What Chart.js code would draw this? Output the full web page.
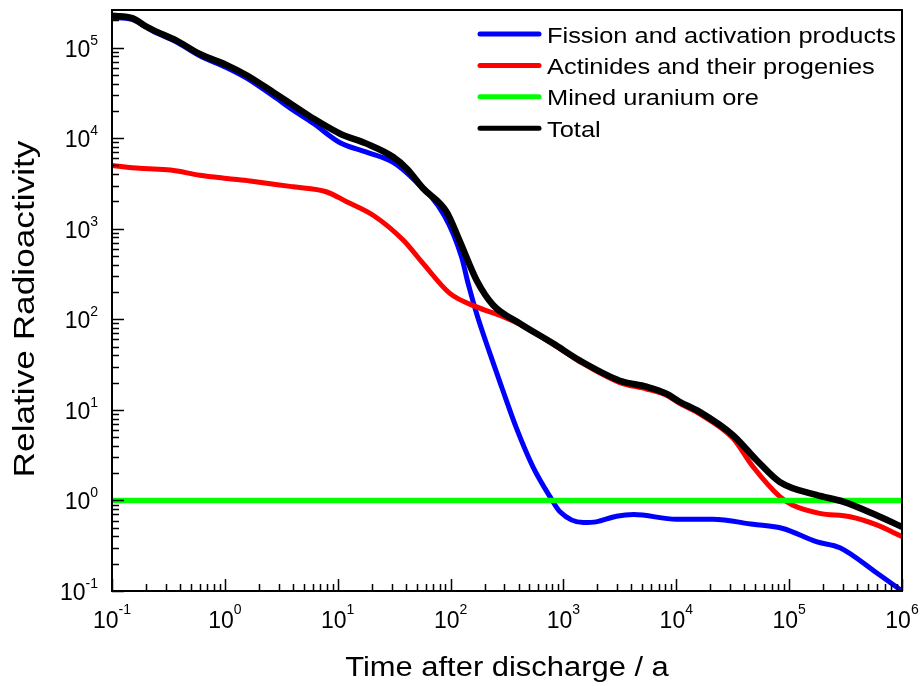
<!DOCTYPE html>
<html>
<head>
<meta charset="utf-8">
<script src="https://cdn.jsdelivr.net/npm/chart.js@4.4.1/dist/chart.umd.min.js"></script>
<style>
  html, body { margin: 0; padding: 0; background: #ffffff; }
  canvas { display: block; }
</style>
</head>
<body>
<canvas id="chart" width="923" height="686"></canvas>
<script>
// Series names, in legend order
const seriesLabels = [
  'Fission and activation products',
  'Actinides and their progenies',
  'Mined uranium ore',
  'Total'
];

// Fission and activation products
const fissionTime = [0.1, 0.15, 0.2, 0.23, 0.37, 0.6, 1.04, 1.56, 2.7, 4.0, 6.1, 10.5, 18, 31, 46, 88, 125, 143, 170, 223, 283, 385, 537, 760, 933, 1500, 1950, 2950, 4200, 10000, 21000, 48000, 88000, 174000, 282000, 590000, 1000000];
const fissionActivity = [2.15e5, 2.05e5, 1.7e5, 1.52e5, 1.16e5, 8.1e4, 6.0e4, 4.6e4, 2.9e4, 2.05e4, 1.45e4, 8.9e3, 7.0e3, 5.4e3, 3.6e3, 1.4e3, 490, 249, 116, 42, 18, 6.2, 2.35, 1.1, 0.75, 0.57, 0.58, 0.67, 0.70, 0.62, 0.62, 0.545, 0.49, 0.35, 0.30, 0.16, 0.10];

// Actinides and their progenies
const actinideTime = [0.1, 0.177, 0.33, 0.6, 1.04, 1.67, 4.04, 7.9, 12, 20.6, 38, 57, 98.6, 170, 292, 411, 813, 1400, 3160, 5450, 8180, 10700, 16100, 31800, 47900, 82600, 107000, 186000, 347000, 589000, 1000000];
const actinideActivity = [5000, 4640, 4440, 3900, 3590, 3370, 2900, 2560, 1990, 1410, 750, 414, 193, 137, 107, 88, 53, 34, 20, 17, 14.5, 11.8, 9.0, 4.85, 2.35, 1.1, 0.89, 0.72, 0.66, 0.54, 0.40];

// Mined uranium ore (reference level)
const oreTime = [0.1, 1000000];
const oreActivity = [1, 1];

// Total
const totalTime = [0.1, 0.153, 0.196, 0.232, 0.37, 0.6, 1.04, 1.56, 2.7, 4.04, 6.07, 10.5, 18, 31, 41, 57, 92, 120, 170, 239, 411, 813, 1400, 3160, 5450, 8180, 10700, 16100, 31800, 51300, 82600, 174000, 300000, 589000, 1000000];
const totalActivity = [2.25e5, 2.1e5, 1.74e5, 1.56e5, 1.2e5, 8.5e4, 6.4e4, 4.95e4, 3.2e4, 2.3e4, 1.65e4, 1.12e4, 8.7e3, 6.2e3, 4.6e3, 2.8e3, 1.54e3, 740, 270, 143, 90, 54, 35, 21, 18, 15.1, 12.3, 9.5, 5.25, 2.8, 1.6, 1.15, 0.97, 0.69, 0.51];

// Decade exponents for the axis labels
const xTickExponents = [-1, 0, 1, 2, 3, 4, 5, 6];
const yTickExponents = [-1, 0, 1, 2, 3, 4, 5];

const xTitle = 'Time after discharge / a';
const yTitle = 'Relative Radioactivity';

const toPoints = (xs, ys) => xs.map((x, i) => ({ x: x, y: ys[i] }));

const FONT = 'Arial, "Liberation Sans", Helvetica, sans-serif';

// Writes "10" with a raised exponent; anchor is 'center' or 'right'
function drawPower(ctx, anchorX, baseY, supY, exp, anchor) {
  ctx.font = '23px ' + FONT;
  const bw = ctx.measureText('10').width;
  ctx.font = '14px ' + FONT;
  const sw = ctx.measureText(String(exp)).width;
  const total = bw + sw;
  const x0 = anchor === 'right' ? anchorX - total : anchorX - total / 2;
  ctx.textAlign = 'left';
  ctx.textBaseline = 'alphabetic';
  ctx.font = '23px ' + FONT;
  ctx.fillText('10', x0, baseY);
  ctx.font = '14px ' + FONT;
  ctx.fillText(String(exp), x0 + bw, supY);
}

// Text widened along its writing direction
function wideText(ctx, text, x, y, rotation, stretch, align) {
  ctx.save();
  ctx.translate(x, y);
  ctx.rotate(rotation);
  ctx.scale(stretch, 1);
  ctx.textAlign = align;
  ctx.textBaseline = 'alphabetic';
  ctx.fillText(text, 0, 0);
  ctx.restore();
}

const frameAndLabels = {
  id: 'frameAndLabels',
  afterDatasetsDraw(chart) {
    const ctx = chart.ctx;
    const a = chart.chartArea;
    const xs = chart.scales.x;
    const ys = chart.scales.y;
    ctx.save();
    ctx.fillStyle = '#000';
    ctx.strokeStyle = '#000';

    // frame
    ctx.lineWidth = 2;
    ctx.strokeRect(a.left, a.top, a.right - a.left, a.bottom - a.top);

    // inward ticks on the bottom and left axes
    ctx.lineWidth = 1.5;
    ctx.beginPath();
    for (let e = -1; e <= 6; e++) {
      for (let m = 1; m <= 9; m++) {
        const v = m * Math.pow(10, e);
        if (v > 1e6 + 1) continue;
        const px = Math.round(xs.getPixelForValue(v)) + 0.5;
        const len = m === 1 ? 12 : 7;
        ctx.moveTo(px, a.bottom);
        ctx.lineTo(px, a.bottom - len);
      }
    }
    for (let e = -1; e <= 5; e++) {
      for (let m = 1; m <= 9; m++) {
        const v = m * Math.pow(10, e);
        if (v > ys.max) continue;
        const py = Math.round(ys.getPixelForValue(v)) + 0.5;
        const len = m === 1 ? 12 : 7;
        ctx.moveTo(a.left, py);
        ctx.lineTo(a.left + len, py);
      }
    }
    ctx.stroke();

    // decade labels
    xTickExponents.forEach(e => {
      const px = xs.getPixelForValue(Math.pow(10, e));
      drawPower(ctx, px, a.bottom + 37, a.bottom + 23, e, 'center');
    });
    yTickExponents.forEach(e => {
      const py = ys.getPixelForValue(Math.pow(10, e));
      drawPower(ctx, a.left - 14, py + 9, py - 3, e, 'right');
    });

    // axis titles
    ctx.font = '27px ' + FONT;
    wideText(ctx, xTitle, (a.left + a.right) / 2, 676, 0, 1.145, 'center');
    ctx.font = '29px ' + FONT;
    wideText(ctx, yTitle, 34, 309, -Math.PI / 2, 1.215, 'center');

    // legend
    const ds = chart.data.datasets;
    ctx.lineCap = 'round';
    ds.forEach((d, i) => {
      const y = 34 + i * 31.4;
      ctx.strokeStyle = d.borderColor;
      ctx.lineWidth = 5;
      ctx.beginPath();
      ctx.moveTo(480, y);
      ctx.lineTo(539, y);
      ctx.stroke();
      ctx.fillStyle = '#000';
      ctx.font = '22px ' + FONT;
      wideText(ctx, d.label, 547, y + 8.5, 0, 1.155, 'left');
    });
    ctx.restore();
  }
};

new Chart(document.getElementById('chart'), {
  type: 'line',
  data: {
    datasets: [
      { label: seriesLabels[0], data: toPoints(fissionTime, fissionActivity), borderColor: '#0000ff', borderWidth: 5, order: 3 },
      { label: seriesLabels[1], data: toPoints(actinideTime, actinideActivity), borderColor: '#ff0000', borderWidth: 5, order: 2 },
      { label: seriesLabels[2], data: toPoints(oreTime, oreActivity), borderColor: '#00ff00', borderWidth: 5.5, order: 1 },
      { label: seriesLabels[3], data: toPoints(totalTime, totalActivity), borderColor: '#000000', borderWidth: 6.5, order: 0 }
    ]
  },
  options: {
    responsive: false,
    animation: false,
    layout: { padding: { left: 112, top: 10, right: 21, bottom: 95 } },
    elements: {
      point: { radius: 0, hoverRadius: 0 },
      line: { cubicInterpolationMode: 'monotone', fill: false, borderCapStyle: 'round', borderJoinStyle: 'round' }
    },
    plugins: { legend: { display: false }, tooltip: { enabled: false } },
    scales: {
      x: { type: 'logarithmic', min: 0.1, max: 1e6, display: false },
      y: { type: 'logarithmic', min: 0.1, max: 2.6e5, display: false }
    }
  },
  plugins: [frameAndLabels]
});
</script>
</body>
</html>
